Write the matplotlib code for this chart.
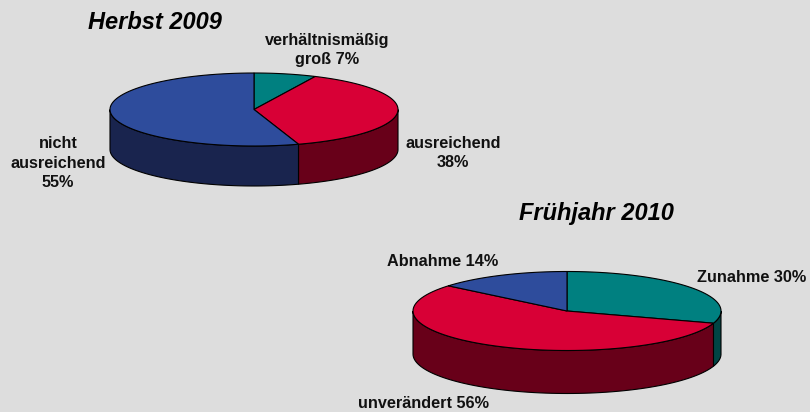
import numpy as np
import matplotlib.pyplot as plt
from matplotlib.patches import Polygon

plt.rcParams['font.family'] = ['Liberation Sans', 'DejaVu Sans']

# data
herbst_labels = ["verhältnismäßig\ngroß 7%", "ausreichend\n38%", "nicht\nausreichend\n55%"]
herbst_values = [7, 38, 55]
herbst_colors = ["#008080", "#D80036", "#2E4C9C"]
herbst_sides = ["#004444", "#680019", "#19244E"]

fruehjahr_labels = ["Zunahme 30%", "unverändert 56%", "Abnahme 14%"]
fruehjahr_values = [30, 56, 14]
fruehjahr_colors = ["#008080", "#D80036", "#2E4C9C"]
fruehjahr_sides = ["#004444", "#680019", "#19244E"]


def arc(cx, cy, rx, ry, t0, t1, dy=0, n=80):
    t = np.radians(np.linspace(t0, t1, n))
    return np.column_stack([cx + rx * np.cos(t), cy - ry * np.sin(t) + dy])


def pie3d(ax, values, colors, sides, cx, cy, rx, ry, depth):
    fracs = np.array(values, dtype=float) / sum(values)
    start = 90.0
    wedges = []
    for f, c, s in zip(fracs, colors, sides):
        end = start - 360 * f
        # visible front rim between -180 and 0 degrees
        lo, hi = max(end, -180), min(start, 0)
        if hi > lo:
            top = arc(cx, cy, rx, ry, hi, lo)
            bot = arc(cx, cy, rx, ry, lo, hi, dy=depth)
            ax.add_patch(Polygon(np.vstack([top, bot]), closed=True, fc=s,
                                 ec="black", lw=0.8))
        wedges.append((start, end, c))
        start = end
    for a0, a1, c in wedges:
        pts = np.vstack([[cx, cy], arc(cx, cy, rx, ry, a0, a1)])
        ax.add_patch(Polygon(pts, closed=True, fc=c, ec="black", lw=0.8))


fig = plt.figure(figsize=(8.1, 4.12), dpi=100)
fig.patch.set_facecolor("#DDDDDD")
ax = fig.add_axes([0, 0, 1, 1])
ax.set_xlim(0, 810)
ax.set_ylim(412, 0)
ax.axis("off")

pie3d(ax, herbst_values, herbst_colors, herbst_sides, 254, 109.5, 144, 36.5, 40)
pie3d(ax, fruehjahr_values, fruehjahr_colors, fruehjahr_sides, 567, 311, 154, 39.5, 43)

tkw = dict(fontsize=11.7, fontweight="bold", ha="center", va="center",
           linespacing=1.4, color="#111111")
ax.text(155, 22, "Herbst 2009", fontsize=17, fontweight="bold", style="italic",
        ha="center", va="center")
ax.text(596, 213, "Frühjahr 2010", fontsize=17, fontweight="bold", style="italic",
        ha="center", va="center")

ax.text(327, 50, herbst_labels[0], **tkw)
ax.text(453, 153, herbst_labels[1], **tkw)
ax.text(58, 163, herbst_labels[2], **tkw)

ax.text(752, 278, fruehjahr_labels[0], **tkw)
ax.text(424, 403, fruehjahr_labels[1], **tkw)
ax.text(443, 262, fruehjahr_labels[2], **tkw)

fig.savefig("out.png", dpi=100, facecolor=fig.get_facecolor())
